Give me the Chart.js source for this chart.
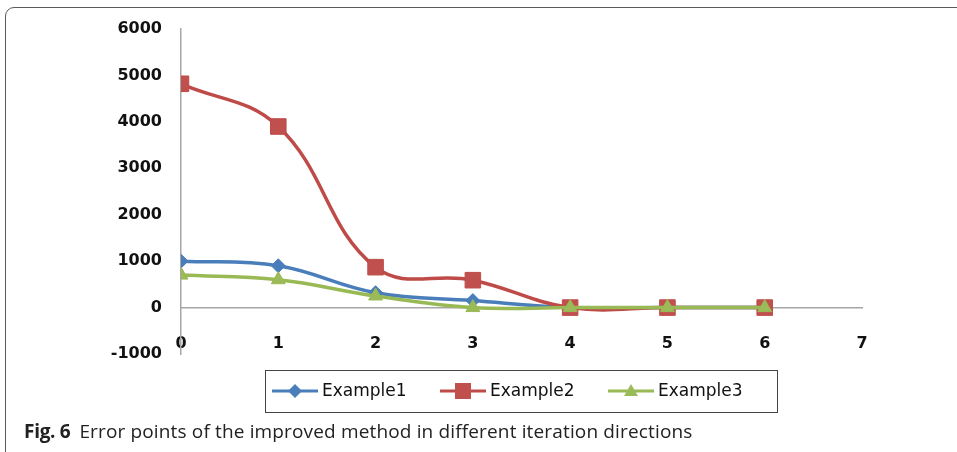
<!DOCTYPE html>
<html>
<head>
<meta charset="utf-8">
<script src="https://cdn.jsdelivr.net/npm/chart.js@4.4.1/dist/chart.umd.min.js"></script>
<style>
  html, body { margin: 0; padding: 0; background: #fff; overflow: hidden; }
  body { width: 957px; height: 452px; position: relative; }
  .frame {
    position: absolute; left: 5px; top: 7px; width: 1000px; height: 460px;
    border: 1px solid #5a5a5a; border-radius: 9px; box-sizing: border-box;
  }
  #wrap { position: absolute; left: 0; top: 0; width: 957px; height: 452px; }
  .caption {
    position: absolute; left: 24px; top: 418px;
    font-family: "Open Sans", sans-serif; font-size: 19px; color: #222;
    letter-spacing: 0.15px; white-space: nowrap; line-height: 26px;
  }
  .caption b { font-weight: 700; margin-right: 9px; letter-spacing: -0.3px; }
</style>
</head>
<body>
<div class="frame"></div>
<div id="wrap"><canvas id="chart"></canvas></div>
<div class="caption"><b>Fig. 6</b>Error points of the improved method in different iteration directions</div>

<script>
// ---- data ----
const iterations = [0, 1, 2, 3, 4, 5, 6];
const seriesNames = ['Example1', 'Example2', 'Example3'];
const example1 = [1000, 900, 320, 150, 0, 0, 0];
const example2 = [4820, 3900, 870, 590, 0, 0, 0];
const example3 = [700, 600, 250, 0, 0, 0, 0];
const yTicks = [-1000, 0, 1000, 2000, 3000, 4000, 5000, 6000];
const xTicks = [0, 1, 2, 3, 4, 5, 6, 7];

const toPoints = vals => iterations.map((x, i) => ({ x, y: vals[i] }));

// legend with a frame, drawn like the Excel one (line + marker)
const boxedLegend = {
  id: 'boxedLegend',
  afterDraw(chart) {
    const ctx = chart.ctx;
    ctx.save();
    ctx.strokeStyle = '#444';
    ctx.lineWidth = 1;
    ctx.strokeRect(265.5, 370.5, 512, 42);
    const starts = [272, 440, 608];
    chart.data.datasets.forEach((ds, i) => {
      const x0 = starts[i], y = 391;
      ctx.strokeStyle = ds.borderColor;
      ctx.lineWidth = 3;
      ctx.beginPath(); ctx.moveTo(x0, y); ctx.lineTo(x0 + 46, y); ctx.stroke();
      ctx.fillStyle = ds.pointBackgroundColor;
      const cx = x0 + 23;
      ctx.beginPath();
      if (ds.pointStyle === 'rectRot') {
        ctx.moveTo(cx, y - 7); ctx.lineTo(cx + 7, y); ctx.lineTo(cx, y + 7); ctx.lineTo(cx - 7, y);
      } else if (ds.pointStyle === 'rect') {
        ctx.rect(cx - 8, y - 8, 16, 16);
      } else {
        ctx.moveTo(cx, y - 7); ctx.lineTo(cx + 7, y + 5); ctx.lineTo(cx - 7, y + 5);
      }
      ctx.closePath(); ctx.fill();
      ctx.fillStyle = '#111';
      ctx.font = '17px "DejaVu Sans", sans-serif';
      ctx.textBaseline = 'middle';
      ctx.fillText(ds.label, x0 + 50, y + 1);
    });
    ctx.restore();
  }
};

const tickFont = { family: '"DejaVu Sans", sans-serif', size: 16, weight: 'bold' };

new Chart(document.getElementById('chart'), {
  type: 'line',
  data: {
    datasets: [
      { label: seriesNames[0], data: toPoints(example1), borderColor: '#4a7ebb', pointBackgroundColor: '#4a7ebb',
        pointBorderColor: '#4a7ebb', pointStyle: 'rectRot', pointRadius: 7, order: 3 },
      { label: seriesNames[1], data: toPoints(example2), borderColor: '#be4b48', pointBackgroundColor: '#c0504d',
        pointBorderColor: '#be4b48', pointStyle: 'rect', pointRadius: 11, order: 2 },
      { label: seriesNames[2], data: toPoints(example3), borderColor: '#98b954', pointBackgroundColor: '#9bbb59',
        pointBorderColor: '#98b954', pointStyle: 'triangle', pointRadius: 8, order: 1 }
    ].map(ds => Object.assign({ borderWidth: 3.5, tension: 0.4, pointBorderWidth: 1, fill: false }, ds))
  },
  options: {
    responsive: true, maintainAspectRatio: false, animation: false,
    layout: { padding: { left: 0, top: 29, right: 95, bottom: 98 } },
    plugins: { legend: { display: false }, tooltip: { enabled: false } },
    scales: {
      x: {
        type: 'linear', min: 0, max: 7, position: { y: 0 },
        afterBuildTicks: s => { s.ticks = xTicks.map(v => ({ value: v })); },
        grid: { display: false, drawTicks: false },
        border: { display: true, color: '#a6a6a6', width: 1.5 },
        ticks: { font: tickFont, color: '#111', padding: 27, callback: v => String(v) }
      },
      y: {
        min: -1000, max: 6000,
        afterBuildTicks: s => { s.ticks = yTicks.map(v => ({ value: v })); },
        afterFit: s => { s.width = 181; },
        grid: { display: false, drawTicks: false },
        border: { display: true, color: '#a6a6a6', width: 1.5 },
        ticks: { font: tickFont, color: '#111', padding: 19, callback: v => String(v) }
      }
    }
  },
  plugins: [boxedLegend]
});
</script>
</body>
</html>
